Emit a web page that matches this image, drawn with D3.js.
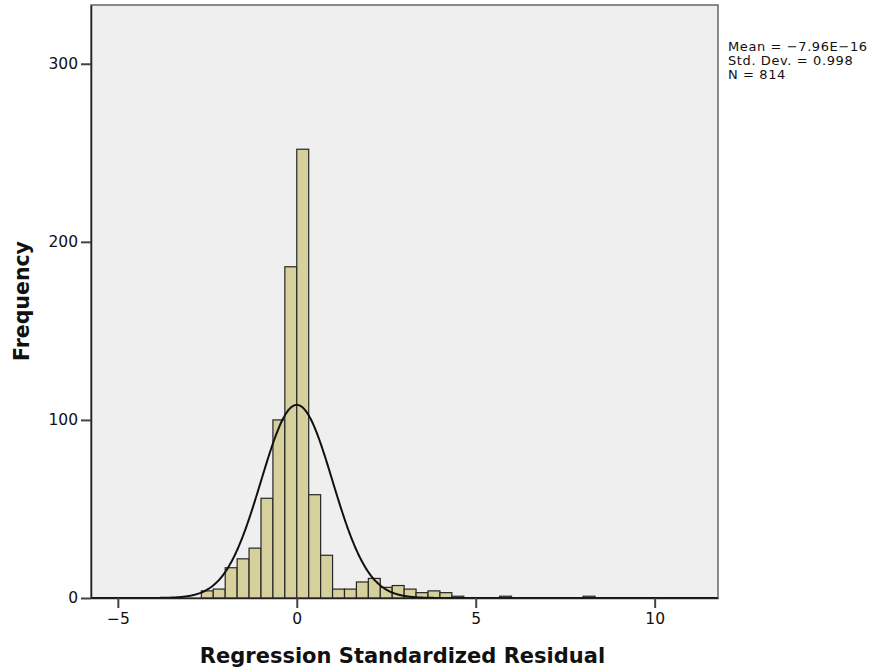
<!DOCTYPE html>
<html>
<head>
<meta charset="utf-8">
<script src="https://cdn.jsdelivr.net/npm/d3@7"></script>
<style>
  html, body { margin: 0; padding: 0; background: #ffffff; }
  svg { display: block; }
  text { font-family: "DejaVu Sans", sans-serif; fill: #111; }
</style>
</head>
<body>
<svg id="chart" width="885" height="670"></svg>
<script>
// Histogram of regression standardized residuals, bins of width 1/3
const binWidth = 1 / 3;
const binIndex = [-8, -7, -6, -5, -4, -3, -2, -1, 0, 1, 2, 3, 4, 5, 6, 7, 8, 9, 10, 11, 12, 13, 17, 24];
const binCounts = [4, 5, 17, 22, 28, 56, 100, 186, 252, 58, 24, 5, 5, 9, 11, 6, 7, 5, 3, 4, 3, 1, 1, 1];

// Summary statistics shown beside the plot
const statMean = -7.96e-16;
const statSd = 0.998;
const statN = 814;
const statLabels = ["Mean = \u22127.96E\u221216", "Std. Dev. = 0.998", "N = 814"];

const xTicks = [-5, 0, 5, 10];
const yTicks = [0, 100, 200, 300];

const plot = { left: 91, right: 718, top: 5, bottom: 598 };

const svg = d3.select("#chart");

const x = d3.scaleLinear().domain([-5.75, 11.77]).range([plot.left, plot.right]);
const y = d3.scaleLinear().domain([0, 333]).range([plot.bottom, plot.top]);

// plot background
svg.append("rect")
  .attr("x", plot.left).attr("y", plot.top)
  .attr("width", plot.right - plot.left).attr("height", plot.bottom - plot.top)
  .attr("fill", "#efefef")
  .attr("stroke", "#666").attr("stroke-width", 1.5);

// bars
const bins = binIndex.map((k, i) => ({ x0: k * binWidth, x1: (k + 1) * binWidth, n: binCounts[i] }));
svg.append("g").selectAll("rect").data(bins).join("rect")
  .attr("x", d => x(d.x0))
  .attr("y", d => y(d.n))
  .attr("width", d => x(d.x1) - x(d.x0))
  .attr("height", d => y(0) - y(d.n))
  .attr("fill", "#d5d09c")
  .attr("stroke", "#262626")
  .attr("stroke-width", 1.2);

// fitted normal curve, scaled to counts per bin
const normal = v => statN * binWidth * Math.exp(-0.5 * Math.pow((v - statMean) / statSd, 2)) / (statSd * Math.sqrt(2 * Math.PI));
const curvePts = d3.range(-5.75, 11.77, 0.02).map(v => [v, normal(v)]);
svg.append("path")
  .datum(curvePts)
  .attr("fill", "none")
  .attr("stroke", "#111")
  .attr("stroke-width", 2)
  .attr("d", d3.line().x(d => x(d[0])).y(d => y(d[1])).curve(d3.curveBasis));

// axes
const xAxis = d3.axisBottom(x).tickValues(xTicks).tickSize(10).tickSizeOuter(0).tickPadding(5)
  .tickFormat(d => d < 0 ? "\u2212" + Math.abs(d) : String(d));
const gx = svg.append("g").attr("transform", `translate(0,${plot.bottom})`).call(xAxis);
gx.select(".domain").attr("stroke", "#222").attr("stroke-width", 1.5);
gx.selectAll(".tick line").attr("stroke", "#444").attr("stroke-width", 2);
gx.selectAll(".tick text").style("font-size", "15.5px").attr("fill", "#111");

const yAxis = d3.axisLeft(y).tickValues(yTicks).tickSize(10).tickSizeOuter(0).tickPadding(3);
const gy = svg.append("g").attr("transform", `translate(${plot.left},0)`).call(yAxis);
gy.select(".domain").attr("stroke", "#222").attr("stroke-width", 1.5);
gy.selectAll(".tick line").attr("stroke", "#444").attr("stroke-width", 2);
gy.selectAll(".tick text").style("font-size", "15.5px").attr("fill", "#111");

// axis titles
svg.append("text")
  .attr("x", 402.5)
  .attr("y", 663)
  .attr("text-anchor", "middle")
  .style("font-size", "21px").style("font-weight", "bold")
  .text("Regression Standardized Residual");

svg.append("text")
  .attr("transform", "translate(29,301) rotate(-90)")
  .attr("text-anchor", "middle")
  .style("font-size", "20.5px").style("font-weight", "bold")
  .text("Frequency");

// statistics block
svg.append("g").selectAll("text").data(statLabels).join("text")
  .attr("x", 728)
  .attr("y", (d, i) => 51 + i * 14)
  .style("font-size", "13px")
  .style("letter-spacing", "0.6px")
  .text(d => d);
</script>
</body>
</html>
